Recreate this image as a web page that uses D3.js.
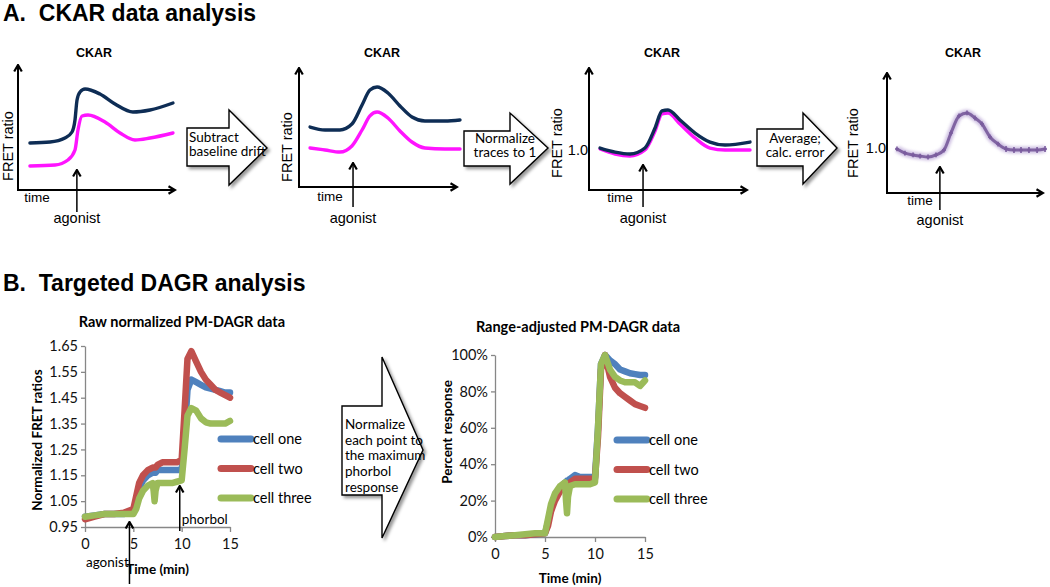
<!DOCTYPE html>
<html><head><meta charset="utf-8">
<script src="https://cdn.jsdelivr.net/npm/d3@7"></script>
<style>body{margin:0;background:#fff} svg{display:block}</style>
</head><body>
<script>
// ================= DATA =================
// Panel A schematics (time and signal in arbitrary axis units, 0-100)
const p1NavyT = [7.6, 20.4, 29.9, 34.4, 36.3, 37.6, 39.5, 42.7, 52.2, 61.8, 73.2, 84.1, 98.7];
const p1NavyV = [37.6, 38.4, 41.6, 46.4, 56, 72, 78.4, 80.8, 76.8, 68.8, 62.4, 64, 69.6];
const p1MagT  = [7.6, 23.6, 31.8, 36.3, 38.2, 40.8, 44.6, 55.4, 65, 74.5, 84.1, 98.7];
const p1MagV  = [19.2, 20, 24, 32, 48, 59.2, 60, 54.4, 45.6, 40, 41.6, 45.6];

const p2T     = [7.0, 16.5, 25.9, 33.5, 39.9, 44.9, 49.4, 56.3, 63.9, 71.5, 79.7, 92.4, 101.9];
const p2NavyV = [50.4, 47.9, 47.9, 52.9, 68.9, 81.5, 84.0, 79.0, 68.1, 58.8, 55.5, 55.5, 56.3];
const p2MagV  = [32.8, 31.1, 29.4, 34.5, 47.9, 59.7, 63.0, 58.0, 47.1, 37.8, 32.8, 31.9, 31.9];

const p3T     = [7.0, 16.5, 25.9, 35.4, 41.8, 46.2, 50, 57.6, 67.1, 76.6, 86.1, 101.9];
const p3NavyV = [34.4, 31.1, 29.5, 34.4, 50.8, 64.8, 65.6, 57.4, 46.7, 39.3, 36.9, 39.3];
const p3MagV  = [33.6, 29.5, 27.9, 32.8, 48.4, 62.3, 63.1, 54.1, 42.6, 34.4, 32.8, 32.8];

const p4T     = [6.4, 11.5, 16.7, 21.2, 26.3, 31.4, 36.5, 41, 46.2, 51.3, 56.4, 60.9, 66, 71.2, 76.3, 81.4, 85.9, 91, 96.2, 101.3];
const p4AvgV  = [36.7, 33.3, 31.7, 30.8, 30, 31.7, 35.8, 50, 64.2, 66.7, 62.5, 57.5, 46.7, 40.8, 36.7, 35.8, 35.8, 35.8, 35.8, 36.7];
const p4Err   = [2, 2, 2, 2, 2, 2, 2, 2, 2, 2, 2, 2, 2, 2, 2.5, 2.5, 2.5, 2.5, 2.5, 2.5];

const normTickP3 = [32.8];
const normTickP4 = [37.5];
const normTickLabels = ["1.0"];
const agonistTimes = [37.5, 34.2, 34.2, 33.9];

const arrowLabelsA = [["Subtract", "baseline drift"], ["Normalize", "traces to 1"], ["Average;", "calc. error"]];
const arrowLabelB = ["Normalize", "each point to", "the maximum", "phorbol", "response"];

// Panel B (time in minutes)
const cellNames = ["cell one", "cell two", "cell three"];
const bTime = [0, 1, 2, 3, 4, 5, 5.3, 5.6, 6, 6.5, 7, 7.1, 7.2, 7.3, 7.5, 8, 8.5, 9, 9.5, 10, 10.3, 10.6, 11, 11.5, 12, 12.5, 13, 13.5, 14, 14.5, 15];
const rawCellOne   = [0.99, 0.995, 1.0, 1.0, 1.0, 1.01, 1.05, 1.10, 1.13, 1.15, 1.16, 1.16, 1.16, 1.16, 1.17, 1.17, 1.17, 1.17, 1.17, 1.17, 1.30, 1.48, 1.52, 1.51, 1.50, 1.49, 1.485, 1.48, 1.475, 1.47, 1.47];
const rawCellTwo   = [0.98, 0.99, 1.0, 1.0, 1.005, 1.02, 1.07, 1.12, 1.15, 1.17, 1.18, 1.18, 1.18, 1.18, 1.19, 1.20, 1.20, 1.20, 1.20, 1.21, 1.40, 1.60, 1.63, 1.59, 1.55, 1.52, 1.50, 1.48, 1.47, 1.46, 1.45];
const rawCellThree = [0.99, 0.995, 1.0, 1.0, 1.0, 1.0, 1.02, 1.06, 1.09, 1.11, 1.12, 1.09, 1.05, 1.09, 1.12, 1.12, 1.12, 1.12, 1.125, 1.13, 1.25, 1.38, 1.41, 1.40, 1.37, 1.355, 1.35, 1.35, 1.35, 1.35, 1.36];
const pctCellOne   = [0, 0.005, 0.01, 0.01, 0.015, 0.02, 0.08, 0.16, 0.22, 0.27, 0.30, 0.30, 0.31, 0.31, 0.32, 0.34, 0.33, 0.33, 0.33, 0.33, 0.60, 0.95, 1.00, 0.97, 0.95, 0.92, 0.91, 0.90, 0.895, 0.89, 0.89];
const pctCellTwo   = [0, 0.005, 0.01, 0.01, 0.015, 0.02, 0.06, 0.14, 0.20, 0.25, 0.29, 0.29, 0.29, 0.29, 0.30, 0.32, 0.32, 0.32, 0.32, 0.32, 0.55, 0.92, 1.00, 0.88, 0.82, 0.79, 0.77, 0.75, 0.73, 0.72, 0.71];
const pctCellThree = [0, 0.005, 0.01, 0.015, 0.02, 0.02, 0.10, 0.18, 0.24, 0.28, 0.30, 0.20, 0.13, 0.22, 0.28, 0.29, 0.29, 0.29, 0.29, 0.30, 0.60, 0.95, 1.00, 0.92, 0.88, 0.86, 0.85, 0.85, 0.85, 0.83, 0.86];
const rawTicks  = [0.95, 1.05, 1.15, 1.25, 1.35, 1.45, 1.55, 1.65];
const pctTicks  = [0, 0.2, 0.4, 0.6, 0.8, 1.0];
const timeTicks = [0, 5, 10, 15];
const agonistMin = [4.6];
const phorbolMin = [9.8];

// ================= DRAWING =================
const W = 1050, H = 587;
const ARIAL = "'Liberation Sans', Arial, sans-serif";
const CAL = "Lato, 'Open Sans', sans-serif";
const svg = d3.select("body").append("svg").attr("width", W).attr("height", H)
  .style("font-family", ARIAL);
const defs = svg.append("defs");

function chevron(id, sw) {
  defs.append("marker").attr("id", id).attr("viewBox", "0 0 10 10")
    .attr("refX", 8.5).attr("refY", 5).attr("markerWidth", 10).attr("markerHeight", 10)
    .attr("markerUnits", "userSpaceOnUse").attr("orient", "auto")
    .append("path").attr("d", "M2,1.2 L8.5,5 L2,8.8").attr("fill", "none")
    .attr("stroke", "#000").attr("stroke-width", sw).attr("stroke-linejoin", "miter");
}
chevron("chevAxis", 2.2);
chevron("chevAg", 2.2);

const sh = defs.append("filter").attr("id", "shadow").attr("x", "-20%").attr("y", "-20%")
  .attr("width", "150%").attr("height", "150%");
sh.append("feDropShadow").attr("dx", 2.5).attr("dy", 2.5).attr("stdDeviation", 1.6)
  .attr("flood-color", "#000").attr("flood-opacity", 0.4);
const glow = defs.append("filter").attr("id", "glow").attr("x", "-10%").attr("y", "-50%")
  .attr("width", "120%").attr("height", "200%");
glow.append("feGaussianBlur").attr("stdDeviation", 1.8);

// Headers
svg.append("text").attr("x", 3).attr("y", 21).attr("font-size", 23).attr("font-weight", "bold")
  .style("white-space", "pre").text("A.  CKAR data analysis");
svg.append("text").attr("x", 3).attr("y", 291).attr("font-size", 23).attr("font-weight", "bold")
  .style("white-space", "pre").text("B.  Targeted DAGR analysis");

// ----- schematic panels -----
const panelLayout = [
  {x0: 18,  x1: 175,  y0: 190, y1: 65, titleX: 94,  fretX: 8,   fretY: 146, timeX: 37,  timeY: 197, agTop: 170, agBot: 212, agTextY: 218},
  {x0: 299, x1: 457,  y0: 187, y1: 68, titleX: 382, fretX: 287, fretY: 147, timeX: 330, timeY: 196, agTop: 163, agBot: 207, agTextY: 218},
  {x0: 589, x1: 747,  y0: 190, y1: 68, titleX: 662, fretX: 557, fretY: 143, timeX: 620, timeY: 197, agTop: 165, agBot: 207, agTextY: 218},
  {x0: 887, x1: 1043, y0: 193, y1: 73, titleX: 963, fretX: 853, fretY: 143, timeX: 920, timeY: 200, agTop: 167, agBot: 210, agTextY: 220}
];
const panelCurves = [
  [{t: p1NavyT, v: p1NavyV, c: "#0e2d55"}, {t: p1MagT, v: p1MagV, c: "#ff14ff"}],
  [{t: p2T, v: p2NavyV, c: "#0e2d55"}, {t: p2T, v: p2MagV, c: "#ff14ff"}],
  [{t: p3T, v: p3MagV, c: "#ff14ff"}, {t: p3T, v: p3NavyV, c: "#0e2d55"}],
  []
];
const panelTicks = [null, null, normTickP3, normTickP4];

panelLayout.forEach((L, i) => {
  const g = svg.append("g");
  const x = d3.scaleLinear().domain([0, 100]).range([L.x0, L.x1]);
  const y = d3.scaleLinear().domain([0, 100]).range([L.y0, L.y1]);
  g.append("line").attr("x1", L.x0).attr("y1", L.y0 + 1).attr("x2", L.x0).attr("y2", L.y1)
    .attr("stroke", "#000").attr("stroke-width", 2).attr("marker-end", "url(#chevAxis)");
  g.append("line").attr("x1", L.x0 - 1).attr("y1", L.y0).attr("x2", L.x1).attr("y2", L.y0)
    .attr("stroke", "#000").attr("stroke-width", 2).attr("marker-end", "url(#chevAxis)");
  g.append("text").attr("x", L.titleX).attr("y", 53).attr("dy", "0.35em").attr("text-anchor", "middle")
    .attr("font-size", 12.5).attr("font-weight", "bold").text("CKAR");
  g.append("text").attr("transform", `translate(${L.fretX},${L.fretY}) rotate(-90)`)
    .attr("dy", "0.35em").attr("text-anchor", "middle").attr("font-size", 14.5).text("FRET ratio");
  g.append("text").attr("x", L.timeX).attr("y", L.timeY).attr("dy", "0.35em").attr("text-anchor", "middle")
    .attr("font-size", 13.5).text("time");
  const ax = x(agonistTimes[i]);
  g.append("line").attr("x1", ax).attr("y1", L.agBot).attr("x2", ax).attr("y2", L.agTop)
    .attr("stroke", "#000").attr("stroke-width", 1.5).attr("marker-end", "url(#chevAg)");
  g.append("text").attr("x", ax).attr("y", L.agTextY).attr("dy", "0.35em").attr("text-anchor", "middle")
    .attr("font-size", 14.5).text("agonist");
  if (panelTicks[i]) {
    g.append("text").attr("x", L.x0 - 1).attr("y", y(panelTicks[i][0])).attr("dy", "0.35em")
      .attr("text-anchor", "end").attr("font-size", 14.5).text(normTickLabels[0]);
  }
  const line = d3.line().x(d => x(d[0])).y(d => y(d[1])).curve(d3.curveMonotoneX);
  panelCurves[i].forEach(c => {
    g.append("path").attr("d", line(c.t.map((t, k) => [t, c.v[k]])))
      .attr("fill", "none").attr("stroke", c.c).attr("stroke-width", 3.4).attr("stroke-linecap", "round");
  });
  if (i === 3) {
    const pts = p4T.map((t, k) => [t, p4AvgV[k]]);
    g.append("path").attr("d", line(pts)).attr("fill", "none").attr("stroke", "#b9a5d6")
      .attr("stroke-width", 7).attr("opacity", 0.7).attr("filter", "url(#glow)");
    g.append("path").attr("d", line(pts)).attr("fill", "none").attr("stroke", "#8064a2")
      .attr("stroke-width", 3);
    pts.forEach((p, k) => {
      const px = x(p[0]);
      g.append("line").attr("x1", px).attr("x2", px).attr("y1", y(p[1] + p4Err[k])).attr("y2", y(p[1] - p4Err[k]))
        .attr("stroke", "#7a5c9e").attr("stroke-width", 1.6);
      g.append("line").attr("x1", px - 1.8).attr("x2", px + 1.8).attr("y1", y(p[1])).attr("y2", y(p[1]))
        .attr("stroke", "#7a5c9e").attr("stroke-width", 2.2);
    });
  }
});

// ----- block arrows -----
function blockArrow(bx0, bTop, bBot, hx, hTop, hBot, tipX, tipY) {
  const pts = [[bx0, bTop], [hx, bTop], [hx, hTop], [tipX, tipY], [hx, hBot], [hx, bBot], [bx0, bBot]];
  svg.append("path").attr("d", "M" + pts.map(p => p.join(",")).join("L") + "Z")
    .attr("fill", "#fff").attr("stroke", "#000").attr("stroke-width", 1.4)
    .attr("stroke-linejoin", "miter").attr("filter", "url(#shadow)");
}
blockArrow(187, 128, 166, 229, 110, 185, 267, 148);
blockArrow(464, 131, 166, 510, 113, 184, 548, 148);
blockArrow(757, 129, 166, 803, 113, 184, 837, 148);
blockArrow(342, 406, 495, 382, 357, 538, 423, 450);

const arrowTextPos = [
  {x: 189, y: 137, anchor: "start"},
  {x: 505, y: 138, anchor: "middle"},
  {x: 795, y: 138, anchor: "middle"}
];
arrowLabelsA.forEach((lines, i) => {
  const P = arrowTextPos[i];
  lines.forEach((s, k) => {
    svg.append("text").attr("x", P.x).attr("y", P.y + k * 14.5).attr("dy", "0.35em")
      .attr("text-anchor", P.anchor).attr("font-family", CAL).attr("font-size", 13.5).text(s);
  });
});
arrowLabelB.forEach((s, k) => {
  svg.append("text").attr("x", 345).attr("y", 424 + k * 15.8).attr("dy", "0.35em")
    .attr("font-family", CAL).attr("font-size", 13.5).text(s);
});

// ----- Excel-style charts -----
const cellColors = ["#4f81bd", "#c0504d", "#9bbb59"];
function excelChart(cfg) {
  const g = svg.append("g").attr("font-family", CAL);
  const x = d3.scaleLinear().domain([0, 15]).range([cfg.x0, cfg.x1]);
  const y = d3.scaleLinear().domain(cfg.yDomain).range([cfg.y0, cfg.y1]);
  const ya = g.append("g").attr("transform", `translate(${cfg.x0},0)`)
    .call(d3.axisLeft(y).tickValues(cfg.yTicks).tickFormat(cfg.fmt).tickSize(4).tickSizeOuter(0).tickPadding(3));
  const xa = g.append("g").attr("transform", `translate(0,${cfg.y0})`)
    .call(d3.axisBottom(x).tickValues(timeTicks).tickFormat(d3.format("d")).tickSize(5).tickSizeOuter(0).tickPadding(7));
  [ya, xa].forEach(a => {
    a.selectAll("path,line").attr("stroke", "#878787").attr("stroke-width", 1.3);
    a.selectAll("text").attr("font-family", CAL).attr("font-size", 14.5).attr("fill", "#111");
  });
  const line = d3.line().x(d => x(d[0])).y(d => y(d[1]));
  cfg.series.forEach((s, i) => {
    g.append("path").attr("d", line(bTime.map((t, k) => [t, s[k]])))
      .attr("fill", "none").attr("stroke", cellColors[i]).attr("stroke-width", 6.5)
      .attr("stroke-linejoin", "round").attr("stroke-linecap", "round");
  });
  g.append("text").attr("x", cfg.titleX).attr("y", cfg.titleY).attr("dy", "0.35em").attr("text-anchor", "middle")
    .attr("font-size", 14.5).attr("font-weight", "bold").text(cfg.title);
  g.append("text").attr("transform", `translate(${cfg.ylabX},${cfg.ylabY}) rotate(-90)`).attr("dy", "0.35em")
    .attr("text-anchor", "middle").attr("font-size", 13.5).attr("font-weight", "bold").text(cfg.ylab);
  g.append("text").attr("x", x(7.5)).attr("y", cfg.xlabY).attr("dy", "0.35em").attr("text-anchor", "middle")
    .attr("font-size", 13.5).attr("font-weight", "bold").text("Time (min)");
  cellNames.forEach((n, i) => {
    const ly = cfg.legY + i * 29.5;
    g.append("line").attr("x1", cfg.legX).attr("x2", cfg.legX + 30).attr("y1", ly).attr("y2", ly)
      .attr("stroke", cellColors[i]).attr("stroke-width", 7).attr("stroke-linecap", "round");
    g.append("text").attr("x", cfg.legX + 32).attr("y", ly).attr("dy", "0.35em").attr("font-size", 14.5).text(n);
  });
  return {g, x, y};
}

const raw = excelChart({
  x0: 85, x1: 230, y0: 527, y1: 346, yDomain: [0.95, 1.65], yTicks: rawTicks, fmt: d3.format(".2f"),
  series: [rawCellOne, rawCellTwo, rawCellThree], title: "Raw normalized PM-DAGR data", titleX: 182, titleY: 322,
  ylab: "Normalized FRET ratios", ylabX: 37, ylabY: 440, xlabY: 569, legX: 221, legY: 439
});
excelChart({
  x0: 495, x1: 645, y0: 537, y1: 355, yDomain: [0, 1], yTicks: pctTicks, fmt: d3.format(".0%"),
  series: [pctCellOne, pctCellTwo, pctCellThree], title: "Range-adjusted PM-DAGR data", titleX: 578, titleY: 327,
  ylab: "Percent response", ylabX: 447, ylabY: 432, xlabY: 578, legX: 617, legY: 440
});

// agonist / phorbol arrows on raw chart
const ag = raw.x(agonistMin[0]), ph = raw.x(phorbolMin[0]);
svg.append("line").attr("x1", ag).attr("x2", ag).attr("y1", 584).attr("y2", 522)
  .attr("stroke", "#000").attr("stroke-width", 1.5).attr("marker-end", "url(#chevAg)");
svg.append("line").attr("x1", ph).attr("x2", ph).attr("y1", 531).attr("y2", 486)
  .attr("stroke", "#000").attr("stroke-width", 1.5).attr("marker-end", "url(#chevAg)");
svg.append("text").attr("x", 86).attr("y", 562).attr("dy", "0.35em").attr("font-family", CAL)
  .attr("font-size", 13.5).text("agonist");
svg.append("text").attr("x", ph + 2).attr("y", 519).attr("dy", "0.35em").attr("font-family", CAL)
  .attr("font-size", 13.5).text("phorbol");
</script>
</body></html>
